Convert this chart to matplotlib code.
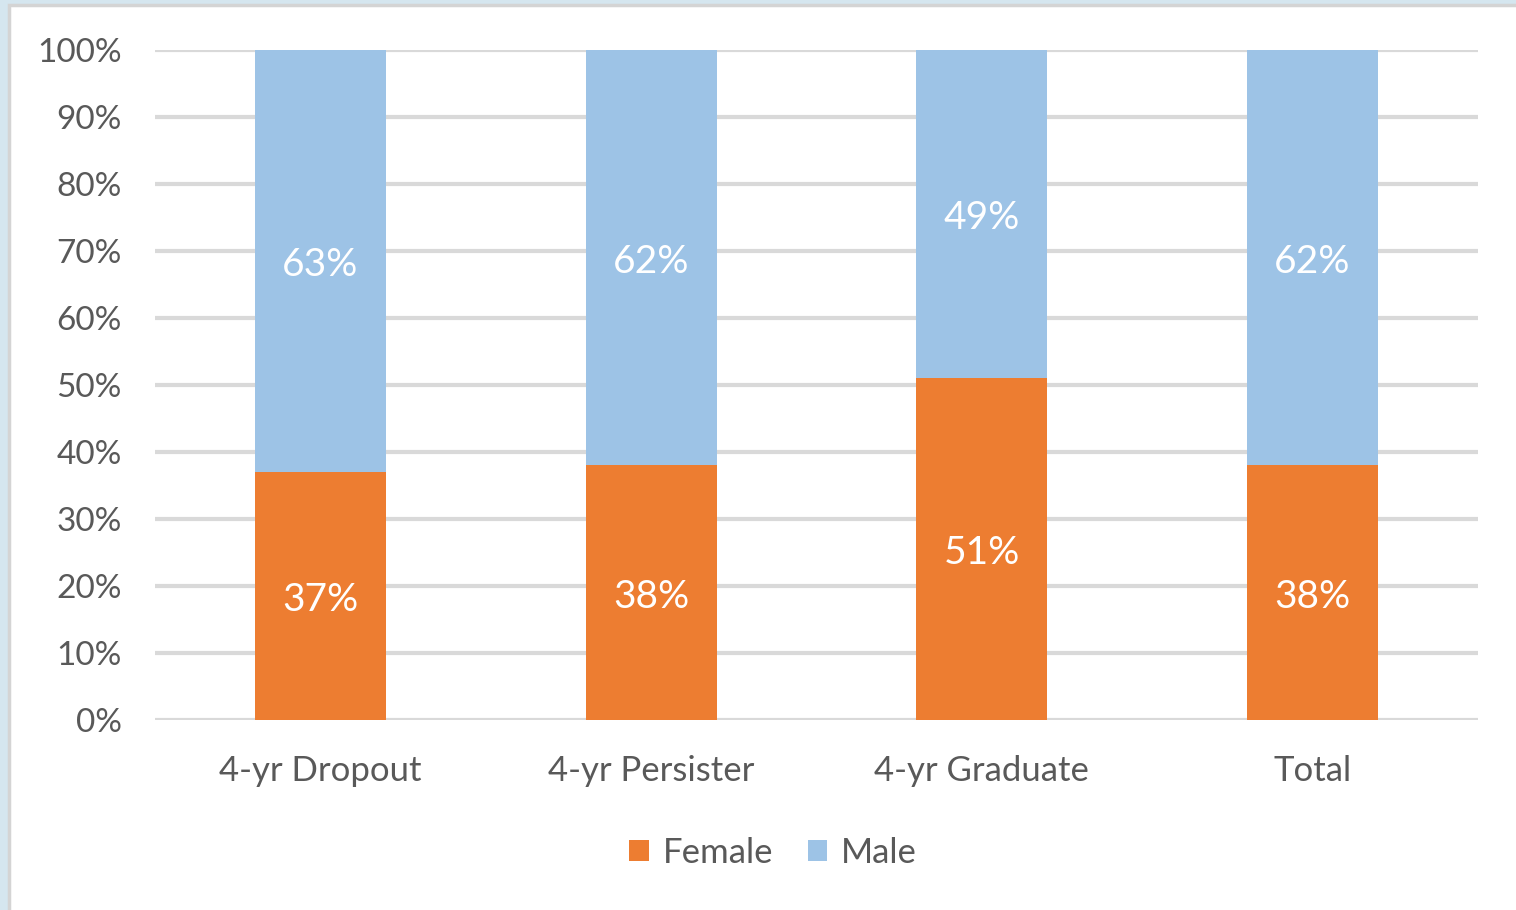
import matplotlib
matplotlib.use("Agg")
import matplotlib.pyplot as plt
from matplotlib.patches import Rectangle, Patch
from matplotlib.ticker import PercentFormatter
from matplotlib.transforms import offset_copy

categories = ["4-yr Dropout", "4-yr Persister", "4-yr Graduate", "Total"]
female = [37, 38, 51, 38]
male = [63, 62, 49, 62]
yticks = [0, 10, 20, 30, 40, 50, 60, 70, 80, 90, 100]

ORANGE = "#ED7D31"
BLUE = "#9DC3E6"
TEXT = "#595959"
GRID = "#D9D9D9"

plt.rcParams["font.family"] = ["Lato", "DejaVu Sans"]

fig = plt.figure(figsize=(15.16, 9.10), dpi=100, facecolor="#D5E6EF")
W, H = 1516, 910
# white chart panel with a thin grey frame
fig.patches.append(Rectangle((9 / W, -0.02), 1.05, 1.02 - 5 / H, transform=fig.transFigure,
                             facecolor="white", edgecolor="#D4D4D4", linewidth=2.5,
                             zorder=-5))

ax = fig.add_axes([155 / W, 1 - 720 / H, (1478 - 155) / W, (720 - 50) / H])
ax.set_facecolor("none")
ax.set_zorder(2)

x = range(len(categories))
bw = 0.396
ax.bar(x, female, width=bw, color=ORANGE, zorder=3)
ax.bar(x, male, width=bw, bottom=female, color=BLUE, zorder=3)

label_tr = offset_copy(ax.transData, fig=fig, x=0, y=-3, units="points")
for i, (f, m) in enumerate(zip(female, male)):
    ax.text(i, f / 2, f"{f}%", ha="center", va="center", color="white",
            fontsize=28, zorder=4, transform=label_tr)
    ax.text(i, f + m / 2, f"{m}%", ha="center", va="center", color="white",
            fontsize=28, zorder=4, transform=label_tr)

ax.set_xlim(-0.5, len(categories) - 0.5)
ax.set_ylim(0, 100)
ax.set_yticks(yticks)
ax.yaxis.set_major_formatter(PercentFormatter(decimals=0))
ax.set_xticks(list(x))
ax.set_xticklabels(categories)
ax.tick_params(axis="both", length=0, labelcolor=TEXT)
ax.tick_params(axis="y", pad=24, labelsize=24)
ax.tick_params(axis="x", pad=25, labelsize=25)
ax.grid(axis="y", color=GRID, linewidth=3, zorder=1)
ax.set_axisbelow(True)
for s in ax.spines.values():
    s.set_visible(False)

handles = [Patch(facecolor=ORANGE, label="Female"), Patch(facecolor=BLUE, label="Male")]
leg = fig.legend(handles=handles, loc="center", bbox_to_anchor=(773 / W, 1 - 853 / H),
                 ncol=2, frameon=False, fontsize=25, labelcolor=TEXT,
                 handlelength=0.55, handleheight=0.55, handletextpad=0.4, columnspacing=1.0)
leg.set_zorder(3)

fig.savefig("out.png", dpi=100, facecolor=fig.get_facecolor())
